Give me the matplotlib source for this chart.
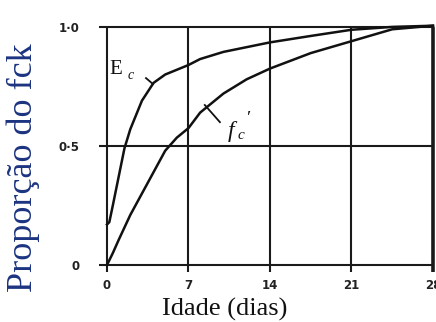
import matplotlib
matplotlib.use("Agg")
import matplotlib.pyplot as plt

# data
days_ec = [0, 0.2, 0.5, 1.0, 1.5, 2.0, 3.0, 4.0, 5.0, 6.0, 7.0, 8.0, 10.0, 12.0, 14.0, 17.5, 21.0, 24.5, 28.0]
ec_vals = [0.17, 0.18, 0.25, 0.37, 0.49, 0.57, 0.69, 0.765, 0.80, 0.82, 0.84, 0.865, 0.895, 0.915, 0.935, 0.962, 0.988, 1.0, 1.005]
days_fc = [0, 0.5, 1.0, 2.0, 3.0, 4.0, 5.0, 6.0, 7.0, 8.0, 10.0, 12.0, 14.0, 17.5, 21.0, 24.5, 28.0]
fc_vals = [0.0, 0.05, 0.105, 0.21, 0.30, 0.39, 0.48, 0.535, 0.575, 0.64, 0.72, 0.78, 0.825, 0.89, 0.94, 0.99, 1.005]
x_ticks = [0, 7, 14, 21, 28]
x_labels = ["0", "7", "14", "21", "28"]
y_ticks = [0, 0.5, 1.0]
y_labels = ["0", "0·5", "1·0"]

W, H = 436, 322
fig = plt.figure(figsize=(W / 100, H / 100), dpi=100)
ax = fig.add_axes([95 / W, 1 - 275 / H, 341 / W, 255 / H])
ax.set_xlim(-1.03, 28.26)
ax.set_ylim(-0.042, 1.029)
for s in ax.spines.values():
    s.set_visible(False)

gc = "#1a1a1a"
for yv in y_ticks:
    ax.plot([-0.7, 28], [yv, yv], color=gc, lw=1.5, solid_capstyle="butt")
for xv in x_ticks:
    ax.plot([xv, xv], [-0.03, 1.0], color=gc, lw=1.5 if xv < 28 else 2.6, solid_capstyle="butt")

ax.plot(days_ec, ec_vals, color="#111111", lw=1.8)
ax.plot(days_fc, fc_vals, color="#111111", lw=1.8)

# curve labels with leaders
ax.text(0.2, 0.82, "E", fontsize=15, family="Liberation Serif", color="#111111", va="center")
ax.text(1.75, 0.795, "c", fontsize=10, family="Liberation Serif", style="italic", color="#111111", va="center")
ax.plot([3.35, 3.95], [0.785, 0.76], color="#111111", lw=1.3)
ax.text(10.4, 0.56, "f", fontsize=17, family="Liberation Serif", style="italic", color="#111111", va="center")
ax.text(11.2, 0.545, "c", fontsize=11, family="Liberation Serif", style="italic", color="#111111", va="center")
ax.text(11.9, 0.61, "′", fontsize=14, family="Liberation Serif", color="#111111", va="center")
ax.plot([8.4, 9.7], [0.672, 0.60], color="#111111", lw=1.3)

ax.set_xticks(x_ticks, x_labels)
ax.set_yticks(y_ticks, y_labels)
ax.tick_params(length=0, labelsize=8.5, colors="#222222")
ax.tick_params(axis="x", pad=3)
ax.tick_params(axis="y", pad=11)
for lab in ax.get_xticklabels() + ax.get_yticklabels():
    lab.set_fontweight("bold")

fig.text(23 / W, 1 - 168 / H, "Proporção do fck", rotation=90, ha="center", va="center",
         fontsize=26, family="Liberation Serif", color="#1c3480")
fig.text(225 / W, 1 - 309 / H, "Idade (dias)", ha="center", va="center",
         fontsize=19, family="Liberation Serif", color="#111111")

fig.savefig("out.png", dpi=100)
